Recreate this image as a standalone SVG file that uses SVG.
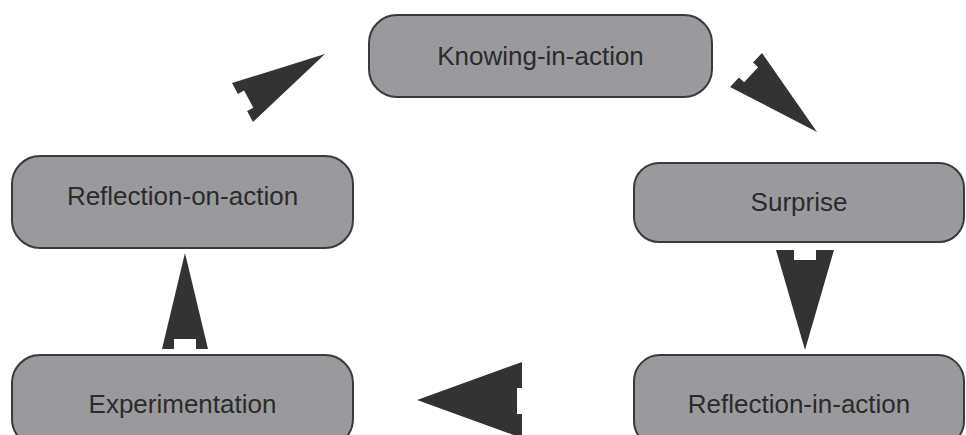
<svg xmlns="http://www.w3.org/2000/svg" width="966" height="435" viewBox="0 0 966 435">
<style>
.box{fill:#9a9a9e;stroke:#3a3a3a;stroke-width:2}
.lbl{font-family:"Liberation Sans",Arial,sans-serif;font-size:26px;fill:#2b2b2b;text-anchor:middle}
.arr{fill:#333333;stroke:none}
</style>
<rect width="966" height="435" fill="#ffffff"/>
<g id="connectors">
<polygon class="arr" points="325,54 232,83 237.9,93.9 244.1,90.6 253.3,107.8 247.1,111.1 253,122"/>
<polygon class="arr" points="817,132 730,87 739,77.5 744.1,82.3 758.1,67.3 753,62.5 762,53"/>
<polygon class="arr" points="776,250 794,250 794,260 816,260 816,250 834,250 805,350"/>
<polygon class="arr" points="417,400 522,362 522,388 517,388 517,414 522,414 522,438"/>
<polygon class="arr" points="185,253 208,349 196,349 196,339 174,339 174,349 162,349"/>
</g>
<g id="knowing">
<rect class="box" x="369" y="15" width="343" height="82" rx="28"/>
<text class="lbl" x="540.5" y="65">Knowing-in-action</text>
</g>
<g id="surprise">
<rect class="box" x="634" y="163" width="330" height="79" rx="25"/>
<text class="lbl" x="799" y="211">Surprise</text>
</g>
<g id="reflection-in-action">
<rect class="box" x="634" y="355" width="330" height="92" rx="26"/>
<text class="lbl" x="799" y="413">Reflection-in-action</text>
</g>
<g id="experimentation">
<rect class="box" x="12" y="355" width="341" height="92" rx="28"/>
<text class="lbl" x="182.5" y="413">Experimentation</text>
</g>
<g id="reflection-on-action">
<rect class="box" x="12" y="156" width="341" height="92" rx="28"/>
<text class="lbl" x="182.5" y="205">Reflection-on-action</text>
</g>
</svg>
